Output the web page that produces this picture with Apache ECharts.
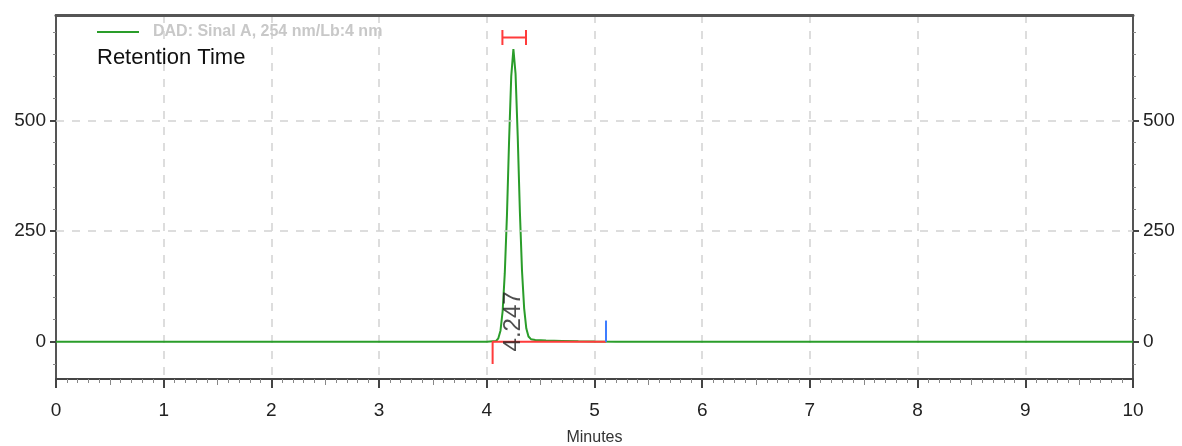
<!DOCTYPE html>
<html>
<head>
<meta charset="utf-8">
<script src="https://cdn.jsdelivr.net/npm/echarts@6/dist/echarts.min.js"></script>
<style>
  html, body { margin: 0; padding: 0; background: #fff; overflow: hidden; }
  #chart { width: 1182px; height: 446px; }
</style>
</head>
<body>
<div id="chart"></div>
<script>
// ---- Data ----
const seriesName = 'DAD: Sinal A, 254 nm/Lb:4 nm';
const titleText = 'Retention Time';
const xAxisName = 'Minutes';

const timeMinutes = [0, 1.7, 3.0, 4.0, 4.087, 4.107, 4.127, 4.147, 4.167, 4.187, 4.207, 4.227, 4.247,
  4.267, 4.287, 4.307, 4.327, 4.347, 4.367, 4.387, 4.41, 4.45, 4.55, 4.7, 4.85, 5.0, 5.2, 6.0, 8.0, 10.0];
const signalMAU = [0, 0, 0, 0, 2, 8, 25, 69, 155, 285, 455, 600, 661,
  605, 465, 295, 160, 75, 30, 12, 6, 4, 3, 2, 1, 0.5, 0, 0, 0, 0];

const peakLabel = '4.247';
const peakLabelPos = [4.247, 46];

const integrationStart = [[4.054, -50], [4.054, 0], [5.107, 0]];
const integrationEnd = [[5.107, 0], [5.107, 48]];
const retentionWindow = [[4.145, 704], [4.145, 670], [4.145, 687], [4.364, 687], [4.364, 704], [4.364, 670]];

const yMajorTicks = [0, 250, 500];
const yMinorTicks = [-50, 50, 100, 150, 200, 300, 350, 400, 450, 550, 600, 650, 700];
const xHalfTicks = [0.5, 1.5, 2.5, 3.5, 4.5, 5.5, 6.5, 7.5, 8.5, 9.5];
const yGridValues = [250, 500];

const Y_MIN = -84, Y_MAX = 738;

// ---- Chart ----
const SANS = "'Liberation Sans', Arial, sans-serif";
const green = '#2a9d2a';

const chart = echarts.init(document.getElementById('chart'), null, { width: 1182, height: 446 });

function yAxisMajor(pos) {
  return {
    type: 'value', position: pos, min: Y_MIN, max: Y_MAX,
    axisLine: { show: true, onZero: false, lineStyle: { color: '#555', width: 2 } },
    axisTick: { show: true, customValues: yMajorTicks, length: 6, lineStyle: { color: '#444', width: 2 } },
    axisLabel: { show: true, customValues: yMajorTicks, margin: 10, fontSize: 19, color: '#222', fontFamily: SANS },
    splitLine: { show: false }
  };
}
function yAxisMinor(pos) {
  return {
    type: 'value', position: pos, min: Y_MIN, max: Y_MAX,
    axisLine: { show: false, onZero: false },
    axisTick: { show: true, customValues: yMinorTicks, length: 3, lineStyle: { color: '#888', width: 1 } },
    axisLabel: { show: false },
    splitLine: { show: false }
  };
}

const option = {
  animation: false,
  backgroundColor: '#fff',
  grid: { left: 56, right: 49, top: 15, bottom: 67, containLabel: false, outerBoundsMode: 'none' },
  title: {
    text: titleText, left: 97, top: 47, padding: 0,
    textStyle: { fontSize: 22, fontWeight: 'normal', color: '#111', fontFamily: SANS }
  },
  legend: {
    data: [seriesName], left: 97, top: 24, padding: 0,
    icon: 'rect', itemWidth: 42, itemHeight: 2,
    textStyle: { color: '#c8c8c8', fontSize: 16, fontWeight: 'bold', fontFamily: SANS, padding: [0, 0, 0, 9] }
  },
  xAxis: [
    {
      type: 'value', position: 'bottom', min: 0, max: 10, interval: 1,
      name: xAxisName, nameLocation: 'middle', nameGap: 51,
      nameTextStyle: { fontSize: 16, color: '#333', fontFamily: SANS },
      axisLine: { show: true, onZero: false, lineStyle: { color: '#444', width: 2 } },
      axisTick: { show: true, length: 9, lineStyle: { color: '#444', width: 2 } },
      minorTick: { show: true, splitNumber: 10, length: 4, lineStyle: { color: '#888', width: 1 } },
      axisLabel: { show: true, margin: 22, fontSize: 19, color: '#222', fontFamily: SANS },
      splitLine: { show: true, lineStyle: { color: '#d2d2d2', width: 1.5, type: [8, 8] } }
    },
    {
      type: 'value', position: 'bottom', min: 0, max: 10,
      axisLine: { show: false, onZero: false },
      axisTick: { show: true, customValues: xHalfTicks, length: 6, lineStyle: { color: '#888', width: 1 } },
      axisLabel: { show: false },
      splitLine: { show: false }
    },
    {
      type: 'value', position: 'top', min: 0, max: 10,
      axisLine: { show: true, onZero: false, lineStyle: { color: '#555', width: 3 } },
      axisTick: { show: false }, axisLabel: { show: false }, splitLine: { show: false }
    }
  ],
  yAxis: [yAxisMajor('left'), yAxisMajor('right'), yAxisMinor('left'), yAxisMinor('right')],
  series: [
    {
      name: 'grid', type: 'line', data: [[0, 0]], showSymbol: false, silent: true, z: 1,
      lineStyle: { opacity: 0 },
      markLine: {
        silent: true, symbol: 'none', label: { show: false },
        lineStyle: { color: '#d2d2d2', width: 1.5, type: [8, 8] },
        data: yGridValues.map(v => ({ yAxis: v }))
      }
    },
    {
      name: seriesName, type: 'line', color: green, showSymbol: false, z: 3,
      lineStyle: { color: green, width: 2 },
      data: timeMinutes.map((t, i) => [t, signalMAU[i]])
    },
    {
      name: 'integration', type: 'line', showSymbol: false, z: 4, silent: true,
      lineStyle: { color: '#ff3b3b', width: 2 }, data: integrationStart
    },
    {
      name: 'end', type: 'line', showSymbol: false, z: 4, silent: true,
      lineStyle: { color: '#3d7dff', width: 2 }, data: integrationEnd
    },
    {
      name: 'window', type: 'line', showSymbol: false, z: 4, silent: true,
      lineStyle: { color: '#ff3b3b', width: 2 }, data: retentionWindow
    },
    {
      name: 'peakLabel', type: 'scatter', symbolSize: 2, z: 5, silent: true,
      itemStyle: { color: 'rgba(0,0,0,0)' },
      label: {
        show: true, position: 'inside', rotate: 90, formatter: peakLabel,
        fontSize: 24, color: '#222', fontFamily: SANS
      },
      data: [peakLabelPos]
    }
  ]
};
chart.setOption(option);
</script>
</body>
</html>
